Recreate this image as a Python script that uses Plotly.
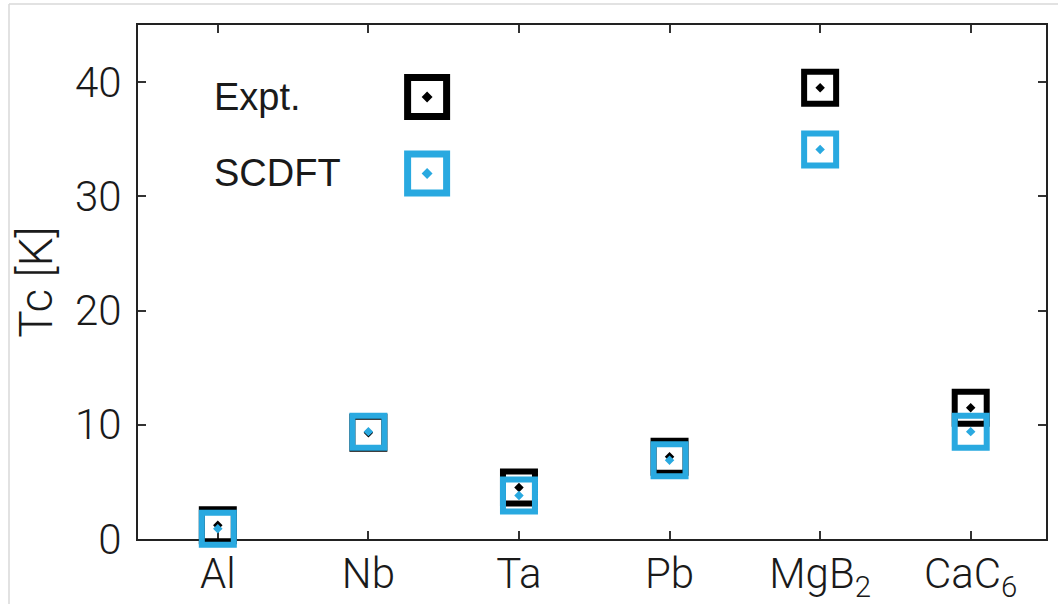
import plotly.graph_objects as go

# ---- data ----
materials = ["Al", "Nb", "Ta", "Pb", "MgB<sub>2</sub>", "CaC<sub>6</sub>"]
tc_expt = [1.2, 9.3, 4.5, 7.2, 39.5, 11.5]
tc_scdft = [0.9, 9.4, 3.8, 6.9, 34.1, 9.4]
legend_labels = ["Expt.", "SCDFT"]
y_ticks = [0, 10, 20, 30, 40]

# ---- styles ----
BLACK = "#000000"
BLUE = "#29A9E0"
FONT = "Roboto"
WEIGHT = 300
LEG_FONT = "Liberation Sans"
TXT = "#1a1a1a"

xpos = list(range(len(materials)))

fig = go.Figure()

fig.add_trace(go.Scatter(
    x=xpos, y=tc_expt, mode="markers", name=legend_labels[0],
    marker=dict(symbol="square-open-dot", size=32, color=BLACK,
                line=dict(width=6, color=BLACK)),
    cliponaxis=False, showlegend=False,
))
fig.add_trace(go.Scatter(
    x=xpos, y=tc_scdft, mode="markers", name=legend_labels[1],
    marker=dict(symbol="square-open-dot", size=32, color=BLUE,
                line=dict(width=6, color=BLUE)),
    cliponaxis=False, showlegend=False,
))

# custom legend (text left, symbol right)
leg_x_text = -0.04
leg_x_mark = 1.39
leg_y = [38.7, 32.0]
for lab, col, yy in zip(legend_labels, [BLACK, BLUE], leg_y):
    fig.add_trace(go.Scatter(
        x=[leg_x_mark], y=[yy], mode="markers",
        marker=dict(symbol="square-open-dot", size=39, color=col,
                    line=dict(width=7, color=col)),
        cliponaxis=False, showlegend=False, hoverinfo="skip",
    ))
    fig.add_annotation(x=leg_x_text, y=yy, text=lab, showarrow=False,
                       xanchor="left", yanchor="middle",
                       font=dict(family=LEG_FONT, size=38, color=TXT))

# light gray outer border of the picture
W, H = 1058, 604
L, R, T, B = 138, 12, 25, 65
pw, ph = W - L - R, H - T - B
def px(x):
    return (x - L) / pw
def py(y):
    return 1 - (y - T) / ph
fig.add_shape(type="line", xref="paper", yref="paper",
              x0=px(9), x1=px(W + 5), y0=py(4), y1=py(4),
              line=dict(color="#d9d9d9", width=1.5))
fig.add_shape(type="line", xref="paper", yref="paper",
              x0=px(9), x1=px(9), y0=py(4), y1=py(H + 5),
              line=dict(color="#d9d9d9", width=1.5))

axis_common = dict(
    showline=True, linecolor="#222", linewidth=2, mirror="ticks",
    ticks="inside", ticklen=8, tickwidth=1.5, tickcolor="#333",
    showgrid=False, zeroline=False, layer="below traces", automargin=False,
    tickfont=dict(family=FONT, size=42, color=TXT, weight=WEIGHT),
)

fig.update_xaxes(
    range=[-0.53, 5.5], tickmode="array", tickvals=xpos, ticktext=materials,
    ticklabelstandoff=-3,
    **axis_common,
)
fig.update_yaxes(
    range=[0, 45], tickmode="array", tickvals=y_ticks,
    ticktext=[str(v) for v in y_ticks], ticklabelstandoff=6,
    title=dict(text="Tc [K]", font=dict(family=FONT, size=46, color=TXT, weight=WEIGHT),
               standoff=8),
    **axis_common,
)

fig.update_layout(
    width=W, height=H,
    margin=dict(l=L, r=R, t=T, b=B, autoexpand=False),
    paper_bgcolor="white", plot_bgcolor="white",
    showlegend=False,
)

fig.write_html(
    "out.html",
    config={"displayModeBar": False},
    post_script="document.body.style.margin='0';document.body.style.overflow='hidden';",
)
